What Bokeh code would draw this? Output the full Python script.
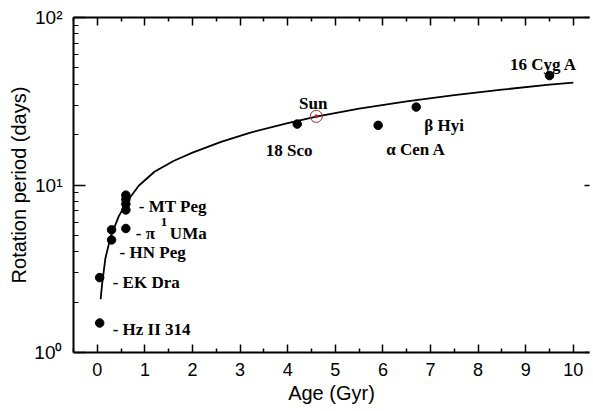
import math
from bokeh.plotting import figure
from bokeh.models import (Label, LinearAxis, LogAxis, FixedTicker, LogScale,
                          CustomLabelingPolicy)
from bokeh.embed import file_html
from bokeh.resources import INLINE

# ---- data ----
star_names = ["Hz II 314", "EK Dra", "HN Peg", "HN Peg b", "π1 UMa",
              "MT Peg a", "MT Peg", "MT Peg c", "MT Peg d",
              "18 Sco", "α Cen A", "β Hyi", "16 Cyg A"]
star_age = [0.05, 0.05, 0.3, 0.3, 0.6, 0.6, 0.6, 0.6, 0.6, 4.2, 5.9, 6.7, 9.5]
star_period = [1.5, 2.8, 4.7, 5.4, 5.5, 8.7, 8.2, 7.7, 7.1, 23.1, 22.7, 29.2, 45.0]

sun_age = [4.6]
sun_period = [25.7]

fit_age = [0.07, 0.1, 0.17, 0.28, 0.45, 0.63, 0.87, 1.2, 1.6, 2.0, 2.6, 3.2,
           4.0, 4.6, 5.5, 6.5, 7.5, 8.5, 9.5, 10.0]
fit_period = [2.08, 2.55, 3.65, 4.9, 6.5, 8.0, 9.9, 12.0, 13.9, 15.6, 18.1, 20.5,
              23.4, 25.6, 28.6, 31.6, 34.4, 37.1, 39.7, 40.8]

x_ticks = [0, 1, 2, 3, 4, 5, 6, 7, 8, 9, 10]
x_minor = [-0.5, 0.5, 1.5, 2.5, 3.5, 4.5, 5.5, 6.5, 7.5, 8.5, 9.5]
y_ticks = [1, 10, 100]
y_tick_labels = ["10⁰", "10¹", "10²"]
y_minor = [2, 3, 4, 5, 6, 7, 8, 9, 20, 30, 40, 50, 60, 70, 80, 90]

# label text, anchor index (into star arrays or 'sun'), align, dx, dy (px, dy up)
labels = [
    ("Sun", "sun", "center", -3, 13),
    ("18 Sco", 9, "center", -8, -26),
    ("α Cen A", 10, "left", 8, -24),
    ("β Hyi", 11, "left", 8, -18),
    ("16 Cyg A", 12, "center", -6, 11),
    ("- MT Peg", 6, "left", 13, -7),
    ("- π", 4, "left", 10, -5),
    ("UMa", 4, "left", 44, -5),
    ("- HN Peg", 2, "left", 8, -13),
    ("- EK Dra", 1, "left", 13, -5),
    ("- Hz II 314", 0, "left", 13, -6),
]

p = figure(width=593, height=408, x_range=(-0.5, 10.34), y_range=(1, 100),
           y_axis_type=None, x_axis_type=None, output_backend="svg",
           toolbar_location=None, min_border_left=73, min_border_right=0,
           min_border_top=17, min_border_bottom=56)
p.outline_line_color = None
p.grid.visible = False
p.background_fill_color = "white"
p.border_fill_color = "white"
p.y_scale = LogScale()

hide_all = "for (const i of indices) indices.unset(i)"

def make_x_axis(show_labels):
    ax = LinearAxis(ticker=FixedTicker(ticks=x_ticks, minor_ticks=x_minor))
    ax.axis_line_width = 2
    ax.axis_line_color = "black"
    ax.major_tick_in = 8
    ax.major_tick_out = 0
    ax.minor_tick_in = 4
    ax.minor_tick_out = 0
    ax.major_tick_line_width = 1.5
    ax.minor_tick_line_width = 1.5
    if show_labels:
        ax.major_label_text_font = "Liberation Sans"
        ax.major_label_text_font_size = "18px"
        ax.major_label_standoff = 10
        ax.major_label_text_color = "black"
        ax.axis_label = "Age (Gyr)"
        ax.axis_label_text_font = "Liberation Sans"
        ax.axis_label_text_font_size = "20px"
        ax.axis_label_text_font_style = "normal"
        ax.axis_label_text_color = "black"
        ax.axis_label_standoff = 3
    else:
        ax.major_label_text_font_size = "1px"
        ax.major_label_standoff = 0
        ax.major_label_policy = CustomLabelingPolicy(code=hide_all)
    return ax

p.add_layout(make_x_axis(True), "below")
p.add_layout(make_x_axis(False), "above")

yl = LogAxis(ticker=FixedTicker(ticks=y_ticks, minor_ticks=y_minor))
yl.axis_line_width = 2
yl.major_tick_in = 12
yl.major_tick_out = 0
yl.minor_tick_in = 5
yl.minor_tick_out = 0
yl.major_tick_line_width = 1.5
yl.minor_tick_line_width = 1.2
yl.major_label_overrides = {t: s for t, s in zip(y_ticks, y_tick_labels)}
yl.major_label_text_font = "Liberation Sans"
yl.major_label_text_font_size = "19px"
yl.major_label_text_color = "black"
yl.major_label_standoff = 11
yl.axis_label = "Rotation period (days)"
yl.axis_label_text_font = "Liberation Sans"
yl.axis_label_text_font_size = "20px"
yl.axis_label_text_font_style = "normal"
yl.axis_label_text_color = "black"
yl.axis_label_standoff = 1
p.add_layout(yl, "left")

yr = LogAxis(ticker=FixedTicker(ticks=y_ticks, minor_ticks=[]))
yr.axis_line_color = None
yr.major_tick_in = 5
yr.major_tick_out = 0
yr.minor_tick_in = 0
yr.minor_tick_out = 0
yr.major_tick_line_width = 1.5
yr.major_label_text_font_size = "1px"
yr.major_label_standoff = 0
yr.major_label_policy = CustomLabelingPolicy(code=hide_all)
p.add_layout(yr, "right")

# fit curve
p.line(fit_age, fit_period, line_color="black", line_width=1.8)

# stars
p.scatter(star_age, star_period, size=8.5, color="black", marker="circle")

# sun
sun_color = "#b22222"
p.scatter(sun_age, sun_period, size=12, marker="circle", fill_color=None,
          line_color=sun_color, line_width=1)
p.scatter(sun_age, sun_period, size=3, marker="circle", fill_color=sun_color,
          line_color=sun_color)

# star labels
for text, idx, align, dx, dy in labels:
    if idx == "sun":
        xv, yv = sun_age[0], sun_period[0]
    else:
        xv, yv = star_age[idx], star_period[idx]
    p.add_layout(Label(x=xv, y=yv, text=text, x_offset=dx, y_offset=dy,
                       text_align=align, text_baseline="alphabetic",
                       text_font="Liberation Serif", text_font_style="bold",
                       text_font_size="17px", text_color="black"))
# superscript of π1
p.add_layout(Label(x=star_age[4], y=star_period[4], text="1", x_offset=35, y_offset=6,
                   text_align="left", text_baseline="alphabetic",
                   text_font="Liberation Serif", text_font_style="bold",
                   text_font_size="13px", text_color="black"))

open("out.html", "w").write(file_html(p, INLINE))
